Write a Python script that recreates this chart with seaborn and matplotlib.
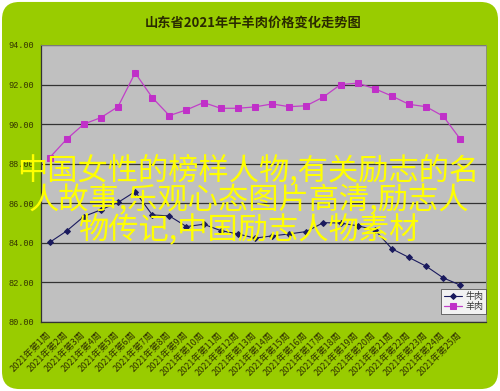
import numpy as np
import pandas as pd
import matplotlib
matplotlib.use("Agg")
import matplotlib.pyplot as plt
from matplotlib.patches import FancyBboxPatch
import seaborn as sns

# weekly prices
weeks = [f"2021年第{i}周" for i in range(1, 26)]
beef = [84.02, 84.60, 85.33, 85.67, 86.04, 86.59, 85.41, 85.36, 84.82, 84.94,
        84.62, 84.45, 84.24, 84.35, 84.45, 84.57, 85.02, 85.00, 84.86, 84.66,
        83.70, 83.26, 82.82, 82.23, 81.86]
mutton = [88.30, 89.24, 90.00, 90.33, 90.88, 92.59, 91.34, 90.43, 90.72, 91.09,
          90.80, 90.80, 90.87, 91.02, 90.88, 90.93, 91.37, 92.00, 92.07, 91.79,
          91.42, 91.00, 90.88, 90.40, 89.24]
y_ticks = [80, 82, 84, 86, 88, 90, 92, 94]

title = "山东省2021年牛羊肉价格变化走势图"
overlay = ["中国女性的榜样人物,有关励志的名",
           "人故事,乐观心态图片高清,励志人",
           "物传记,中国励志人物素材"]

sns.set_theme(style="white")
plt.rcParams['font.family'] = ['Noto Sans CJK SC', 'DejaVu Sans']

df = pd.DataFrame({"pos": np.arange(len(weeks)), "牛肉": beef, "羊肉": mutton})

fig = plt.figure(figsize=(5, 3.91), dpi=100, facecolor="white")
# green panel with rounded corners, behind everything
bg = FancyBboxPatch((0.004, 0.005), 0.992, 0.99, boxstyle="round,pad=0,rounding_size=0.035",
                    transform=fig.transFigure, facecolor="#99CC00", edgecolor="none",
                    mutation_aspect=500 / 391, zorder=-10)
fig.patches.append(bg)

ax = fig.add_axes([0.082, 0.1765, 0.89, 0.7085])
ax.set_facecolor("#C0C0C0")

sns.lineplot(data=df, x="pos", y="牛肉", ax=ax, color="#1A1A5E", lw=0.8,
             marker="D", markersize=3, markeredgecolor="#1A1A5E", label="牛肉")
sns.lineplot(data=df, x="pos", y="羊肉", ax=ax, color="#C040C8", lw=0.9,
             marker="s", markersize=4, markerfacecolor="#C030C8",
             markeredgecolor="#C030C8", label="羊肉")

ax.set_xlim(-0.5, len(weeks) + 0.5)
ax.set_ylim(80, 94)
ax.set_yticks(y_ticks)
ax.set_yticklabels([f"{v:.2f}" for v in y_ticks], family="Liberation Mono",
                   fontsize=6.2, color="#333300")
ax.set_xticks(np.arange(len(weeks)) - 0.2)
ax.set_xticklabels(weeks, rotation=45, ha="right", rotation_mode="anchor",
                   fontsize=6.6, color="#333300")
ax.set_xticks(np.arange(len(weeks)) + 0.5, minor=True)
ax.tick_params(axis="x", which="major", length=0, pad=6)
ax.tick_params(axis="x", which="minor", direction="in", length=3, width=0.6, color="#333333")
ax.tick_params(axis="y", direction="out", length=3, width=0.6, color="#333333", pad=2)
ax.set_xlabel("")
ax.set_ylabel("")

ax.grid(axis="y", color="#333333", lw=0.9)
ax.set_axisbelow(True)
for side in ["left", "bottom"]:
    ax.spines[side].set_color("#333333")
    ax.spines[side].set_linewidth(0.9)
for side in ["top", "right"]:
    ax.spines[side].set_color("#888888")
    ax.spines[side].set_linewidth(0.6)

leg = ax.legend(loc="lower right", bbox_to_anchor=(1.0, 0.03), fontsize=6.5,
                frameon=True, fancybox=False, borderpad=0.3, labelspacing=0.1,
                handlelength=2.0, handletextpad=0.4, borderaxespad=0)
leg.get_frame().set_edgecolor("#333333")
leg.get_frame().set_linewidth(0.6)
for t in leg.get_texts():
    t.set_color("#333333")

fig.text(0.506, 0.941, title, ha="center", va="center", fontsize=9.5,
         fontweight="bold", color="#2A2A00")

for i, line in enumerate(overlay):
    fig.text(0.497, 0.565 - i * 0.077, line, ha="center", va="center",
             fontsize=21.8, color="#FFFF00")

fig.savefig("out.png", dpi=100, facecolor=fig.get_facecolor())
